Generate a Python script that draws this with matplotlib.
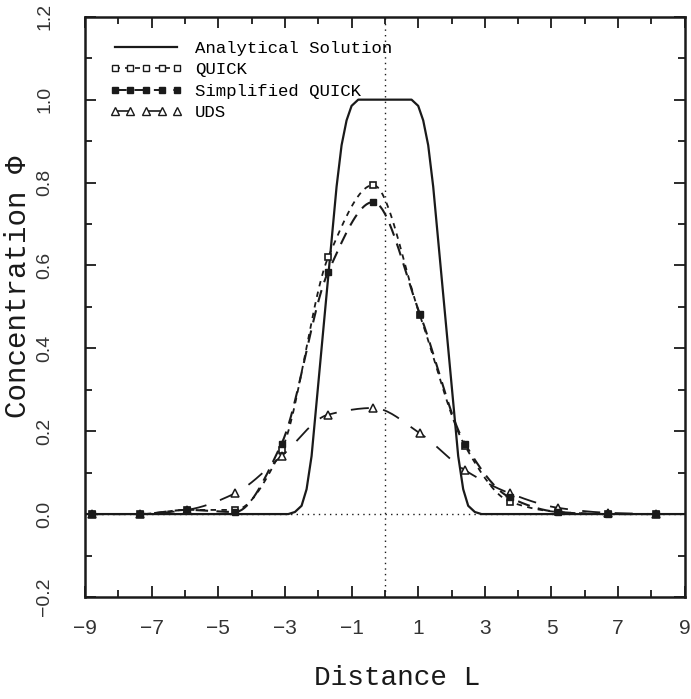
import matplotlib
matplotlib.use("Agg")
import matplotlib.pyplot as plt
import numpy as np

# data
x_exact = [-9.0, -3.2, -2.9, -2.7, -2.5, -2.35, -2.2, -2.05, -1.9, -1.75, -1.6, -1.45,
           -1.3, -1.15, -1.0, -0.8, 0.8, 1.0, 1.15, 1.3, 1.45, 1.6, 1.75, 1.9,
           2.05, 2.2, 2.35, 2.5, 2.7, 2.9, 3.2, 9.0]
y_exact = [0.0, 0.0, 0.0, 0.005, 0.02, 0.06, 0.14, 0.27, 0.40, 0.53, 0.66, 0.79,
           0.89, 0.95, 0.985, 1.0, 1.0, 0.985, 0.95, 0.89, 0.79, 0.66, 0.53, 0.40,
           0.27, 0.14, 0.06, 0.02, 0.005, 0.0, 0.0, 0.0]

x_nodes = [-8.8, -7.35, -5.95, -4.5, -3.1, -1.7, -0.35, 1.05, 2.4, 3.75, 5.2, 6.7, 8.15]
y_quick = [0.0, 0.0, 0.01, 0.01, 0.155, 0.62, 0.794, 0.48, 0.165, 0.03, 0.005, 0.0, 0.0]
y_squick = [0.0, 0.0, 0.01, 0.005, 0.17, 0.585, 0.753, 0.483, 0.17, 0.04, 0.005, 0.0, 0.0]
y_uds = [0.0, 0.0, 0.01, 0.05, 0.14, 0.24, 0.256, 0.195, 0.106, 0.05, 0.015, 0.003, 0.0]

labels = ["Analytical Solution", "QUICK", "Simplified QUICK", "UDS"]


def smooth(x, y, n=20):
    # monotone cubic curve through the points, only for drawing the line
    x = np.asarray(x, float)
    y = np.asarray(y, float)
    h = np.diff(x)
    d = np.diff(y) / h
    m = np.zeros_like(y)
    m[0], m[-1] = d[0], d[-1]
    for k in range(1, len(x) - 1):
        if d[k - 1] * d[k] > 0:
            w1 = 2 * h[k] + h[k - 1]
            w2 = h[k] + 2 * h[k - 1]
            m[k] = (w1 + w2) / (w1 / d[k - 1] + w2 / d[k])
    xs, ys = [], []
    t = np.linspace(0, 1, n, endpoint=False)
    for k in range(len(x) - 1):
        h00 = 2 * t ** 3 - 3 * t ** 2 + 1
        h10 = t ** 3 - 2 * t ** 2 + t
        h01 = -2 * t ** 3 + 3 * t ** 2
        h11 = t ** 3 - t ** 2
        xs.extend(x[k] + t * h[k])
        ys.extend(h00 * y[k] + h10 * h[k] * m[k] + h01 * y[k + 1] + h11 * h[k] * m[k + 1])
    xs.append(x[-1])
    ys.append(y[-1])
    return xs, ys


mono = "Liberation Mono"
ink = "#1a1a1a"

fig = plt.figure(figsize=(6.91, 6.99), dpi=100)
ax = fig.add_axes([0.123, 0.146, 0.868, 0.830])

ax.axvline(0, color=ink, ls=(0, (1, 3)), lw=1.0, zorder=1)
ax.axhline(0, color=ink, ls=(0, (1, 3)), lw=1.0, zorder=1)

ax.plot(x_exact, y_exact, color=ink, lw=1.6, label=labels[0], zorder=3)

sx, sy = smooth(x_nodes, y_quick)
ax.plot(sx, sy, color=ink, lw=1.3, ls=(0, (3, 3)), zorder=3)
sx, sy = smooth(x_nodes, y_squick)
ax.plot(sx, sy, color=ink, lw=1.5, ls=(0, (6, 4)), zorder=3)
sx, sy = smooth(x_nodes, y_uds)
ax.plot(sx, sy, color=ink, lw=1.3, ls=(0, (10, 8)), zorder=3)

ax.plot(x_nodes, y_quick, ls="none", marker="s", ms=5, mfc="white", mec=ink, mew=1.2, zorder=4)
ax.plot(x_nodes, y_squick, ls="none", marker="s", ms=4.5, mfc=ink, mec=ink, zorder=5)
ax.plot(x_nodes, y_uds, ls="none", marker="^", ms=6, mfc="white", mec=ink, mew=1.1, zorder=4)

# legend proxies
h0, = ax.plot([], [], color=ink, lw=1.6)
h1, = ax.plot([], [], color=ink, lw=1.2, ls=(0, (3, 3)), marker="s", ms=5, mfc="white", mec=ink)
h2, = ax.plot([], [], color=ink, lw=1.4, ls=(0, (6, 4)), marker="s", ms=4, mfc=ink, mec=ink)
h3, = ax.plot([], [], color=ink, lw=1.2, ls=(0, (10, 8)), marker="^", ms=5.5, mfc="white", mec=ink)
ax.legend([h0, h1, h2, h3], labels, loc="upper left", frameon=False, numpoints=5,
          handlelength=4.2, handletextpad=0.7, labelspacing=0.35,
          bbox_to_anchor=(0.015, 0.985), prop={"family": mono, "size": 12.5})

ax.set_xlim(-9, 9)
ax.set_ylim(-0.2, 1.2)
ax.set_xticks(np.arange(-9, 10, 2))
ax.set_xticks(np.arange(-8, 9, 2), minor=True)
ax.set_yticks(np.arange(-0.2, 1.21, 0.2))
ax.set_yticks(np.arange(-0.1, 1.2, 0.2), minor=True)
ax.set_xticklabels(["\u22129", "\u22127", "\u22125", "\u22123", "\u22121", "1", "3", "5", "7", "9"])
ax.set_yticklabels(["\u22120.2", "0.0", "0.2", "0.4", "0.6", "0.8", "1.0", "1.2"],
                   rotation=90, va="center")
ax.tick_params(which="both", direction="in", top=True, right=True, width=1.3, color=ink)
ax.tick_params(which="major", length=8)
ax.tick_params(which="minor", length=5)
ax.tick_params(axis="x", pad=16, labelsize=15)
ax.tick_params(axis="y", pad=23, labelsize=14)
for t in ax.get_xticklabels() + ax.get_yticklabels():
    t.set_family("Liberation Sans")
    t.set_color("#333333")
for s in ax.spines.values():
    s.set_linewidth(1.8)
    s.set_color(ink)

ax.set_xlabel("Distance L", family=mono, fontsize=20, color=ink)
ax.xaxis.set_label_coords(0.52, -0.118)
ax.set_ylabel("Concentration \u03a6", family=mono, fontsize=21, color=ink)
ax.yaxis.set_label_coords(-0.088, 0.535)

fig.savefig("out.png", dpi=100)
